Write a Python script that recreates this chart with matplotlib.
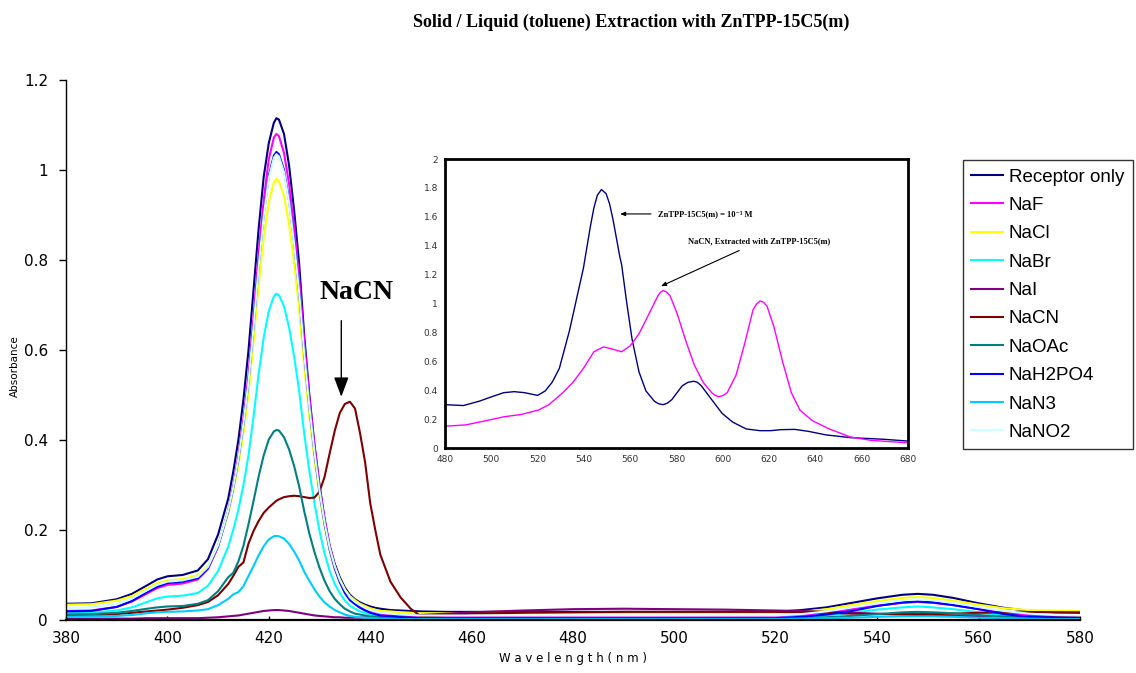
import matplotlib
matplotlib.use("Agg")
import matplotlib.pyplot as plt

# ---- main spectra: absorbance vs wavelength (nm) ----
wl = [380, 385, 390, 393, 396, 398, 400, 403, 406, 408, 410, 412, 413, 414, 415, 416, 417, 418,
      419, 420, 421, 421.5, 422, 423, 424, 425, 426, 427, 428, 429, 430, 431, 432,
      433, 434, 435, 436, 437, 438, 439, 440, 441, 442, 444, 446, 448, 450, 455,
      460, 470, 480, 490, 500, 510, 520, 525, 530, 535, 540, 545, 548, 551, 555,
      560, 565, 570, 575, 580]

receptor = [0.036, 0.037, 0.046, 0.058, 0.077, 0.090, 0.097, 0.100, 0.110, 0.135, 0.19, 0.27, 0.33, 0.40, 0.49, 0.60, 0.735, 0.87,
            0.985, 1.06, 1.105, 1.115, 1.112, 1.08, 1.01, 0.91, 0.79, 0.63, 0.50, 0.39, 0.30, 0.225, 0.165,
            0.125, 0.095, 0.072, 0.056, 0.046, 0.039, 0.034, 0.030, 0.027, 0.025, 0.022, 0.021, 0.020, 0.019, 0.018,
            0.018, 0.018, 0.018, 0.018, 0.018, 0.018, 0.018, 0.022, 0.028, 0.038, 0.048, 0.056, 0.058, 0.056, 0.049,
            0.037, 0.027, 0.020, 0.017, 0.016]

naf = [0.020, 0.021, 0.029, 0.041, 0.059, 0.071, 0.078, 0.081, 0.090, 0.113, 0.163, 0.244, 0.299, 0.365, 0.447, 0.545, 0.675, 0.816,
       0.934, 1.024, 1.072, 1.080, 1.075, 1.038, 0.969, 0.872, 0.757, 0.615, 0.494, 0.388, 0.297, 0.223, 0.164,
       0.121, 0.090, 0.066, 0.050, 0.040, 0.031, 0.025, 0.020, 0.018, 0.014, 0.012, 0.010, 0.009, 0.008, 0.008,
       0.008, 0.008, 0.008, 0.008, 0.008, 0.008, 0.008, 0.011, 0.016, 0.024, 0.032, 0.038, 0.040, 0.038, 0.033,
       0.024, 0.016, 0.011, 0.009, 0.008]

nacl = [0.034, 0.035, 0.043, 0.053, 0.071, 0.082, 0.088, 0.091, 0.099, 0.120, 0.165, 0.236, 0.286, 0.344, 0.417, 0.505, 0.620, 0.745,
        0.851, 0.930, 0.972, 0.980, 0.975, 0.942, 0.879, 0.793, 0.689, 0.561, 0.453, 0.357, 0.275, 0.208, 0.156,
        0.118, 0.090, 0.068, 0.053, 0.044, 0.036, 0.031, 0.026, 0.023, 0.020, 0.019, 0.017, 0.016, 0.015, 0.015,
        0.015, 0.015, 0.015, 0.015, 0.015, 0.015, 0.015, 0.018, 0.024, 0.033, 0.042, 0.049, 0.051, 0.049, 0.043,
        0.034, 0.026, 0.022, 0.021, 0.020]

nabr = [0.015, 0.016, 0.021, 0.028, 0.040, 0.048, 0.052, 0.054, 0.060, 0.076, 0.109, 0.163, 0.201, 0.245, 0.300, 0.366, 0.453, 0.547,
        0.628, 0.687, 0.719, 0.725, 0.722, 0.697, 0.650, 0.585, 0.508, 0.413, 0.331, 0.260, 0.198, 0.148, 0.109,
        0.080, 0.060, 0.043, 0.032, 0.025, 0.019, 0.016, 0.012, 0.010, 0.008, 0.006, 0.005, 0.004, 0.004, 0.004,
        0.004, 0.004, 0.004, 0.004, 0.004, 0.004, 0.004, 0.006, 0.010, 0.016, 0.023, 0.028, 0.030, 0.028, 0.024,
        0.017, 0.010, 0.006, 0.005, 0.004]

nai = [0.003, 0.003, 0.003, 0.003, 0.004, 0.004, 0.004, 0.004, 0.004, 0.005, 0.006, 0.008, 0.009, 0.010, 0.012, 0.014, 0.016, 0.018,
       0.020, 0.021, 0.022, 0.022, 0.022, 0.021, 0.020, 0.018, 0.016, 0.014, 0.012, 0.010, 0.009, 0.008, 0.007,
       0.006, 0.006, 0.005, 0.005, 0.005, 0.005, 0.006, 0.006, 0.007, 0.007, 0.008, 0.009, 0.010, 0.011, 0.014,
       0.017, 0.021, 0.024, 0.025, 0.024, 0.023, 0.021, 0.020, 0.018, 0.016, 0.014, 0.012, 0.011, 0.010, 0.009,
       0.008, 0.007, 0.007, 0.007, 0.007]

nacn = [0.009, 0.010, 0.013, 0.016, 0.019, 0.021, 0.023, 0.027, 0.033, 0.040, 0.055, 0.080, 0.098, 0.118, 0.128, 0.170, 0.198, 0.220,
        0.238, 0.250, 0.260, 0.265, 0.268, 0.273, 0.275, 0.276, 0.275, 0.273, 0.271, 0.272, 0.285, 0.318, 0.370,
        0.420, 0.460, 0.480, 0.485, 0.470, 0.415, 0.350, 0.260, 0.200, 0.145, 0.085, 0.050, 0.025, 0.008, 0.011,
        0.014, 0.016, 0.017, 0.018, 0.018, 0.018, 0.018, 0.017, 0.016, 0.014, 0.013, 0.013, 0.013, 0.013, 0.014,
        0.016, 0.017, 0.017, 0.017, 0.017]

naoac = [0.012, 0.013, 0.016, 0.020, 0.025, 0.028, 0.030, 0.031, 0.036, 0.044, 0.064, 0.095, 0.105, 0.130, 0.165, 0.213, 0.265, 0.319,
         0.366, 0.401, 0.419, 0.422, 0.421, 0.406, 0.379, 0.342, 0.296, 0.241, 0.192, 0.151, 0.116, 0.087, 0.064,
         0.047, 0.035, 0.025, 0.019, 0.014, 0.012, 0.010, 0.008, 0.007, 0.006, 0.005, 0.004, 0.003, 0.003, 0.003,
         0.003, 0.003, 0.003, 0.003, 0.003, 0.003, 0.003, 0.004, 0.006, 0.009, 0.013, 0.017, 0.018, 0.017, 0.015,
         0.011, 0.007, 0.005, 0.004, 0.004]

nah2po4 = [0.019, 0.020, 0.029, 0.042, 0.062, 0.074, 0.082, 0.085, 0.093, 0.115, 0.164, 0.241, 0.294, 0.357, 0.436, 0.530, 0.654, 0.788,
           0.902, 0.987, 1.032, 1.040, 1.035, 1.000, 0.932, 0.839, 0.727, 0.590, 0.473, 0.371, 0.284, 0.213, 0.156,
           0.114, 0.084, 0.060, 0.044, 0.035, 0.027, 0.021, 0.016, 0.013, 0.010, 0.008, 0.006, 0.005, 0.004, 0.004,
           0.004, 0.004, 0.004, 0.004, 0.004, 0.004, 0.004, 0.007, 0.012, 0.020, 0.031, 0.039, 0.041, 0.039, 0.033,
           0.024, 0.013, 0.007, 0.005, 0.004]

nan3 = [0.007, 0.008, 0.009, 0.011, 0.015, 0.017, 0.018, 0.019, 0.021, 0.024, 0.033, 0.047, 0.057, 0.062, 0.075, 0.098, 0.120, 0.144,
        0.164, 0.179, 0.186, 0.187, 0.186, 0.181, 0.169, 0.152, 0.132, 0.107, 0.087, 0.068, 0.052, 0.039, 0.030,
        0.022, 0.017, 0.012, 0.009, 0.007, 0.006, 0.005, 0.004, 0.004, 0.003, 0.003, 0.002, 0.002, 0.002, 0.002,
        0.002, 0.002, 0.002, 0.002, 0.002, 0.002, 0.002, 0.003, 0.004, 0.005, 0.007, 0.008, 0.008, 0.008, 0.007,
        0.005, 0.004, 0.003, 0.002, 0.002]

nano2 = [0.027, 0.028, 0.036, 0.048, 0.066, 0.078, 0.085, 0.088, 0.096, 0.118, 0.166, 0.243, 0.295, 0.358, 0.436, 0.529, 0.652, 0.785,
         0.898, 0.982, 1.027, 1.035, 1.030, 0.995, 0.928, 0.836, 0.726, 0.590, 0.474, 0.373, 0.287, 0.216, 0.160,
         0.119, 0.089, 0.067, 0.050, 0.040, 0.033, 0.027, 0.022, 0.019, 0.016, 0.014, 0.012, 0.011, 0.010, 0.010,
         0.010, 0.010, 0.010, 0.010, 0.010, 0.010, 0.010, 0.013, 0.019, 0.028, 0.037, 0.044, 0.046, 0.044, 0.038,
         0.029, 0.020, 0.014, 0.011, 0.010]

labels = ["Receptor only", "NaF", "NaCl", "NaBr", "NaI", "NaCN",
          "NaOAc", "NaH2PO4", "NaN3", "NaNO2"]
series = [receptor, naf, nacl, nabr, nai, nacn, naoac, nah2po4, nan3, nano2]
colors = ["#000080", "#ff00ff", "#ffff00", "#00ffff", "#800080", "#800000",
          "#008080", "#0000ff", "#00ccff", "#ccffff"]

# ---- inset: visible region of receptor vs. NaCN extract ----
wl_receptor_in = [480, 488, 495, 500.2, 505.4, 509.9, 514.4, 520, 523.3, 526.3, 529.4, 533.8,
                  536.8, 539.8, 542.8, 544.3, 545.8, 547.6, 549.6, 551.1, 552.6, 555.6, 556.3,
                  558.5, 560.8, 563.8, 566.8, 570.5, 572.3, 574.2, 576, 578, 582.5, 585, 587.4,
                  589, 590.7, 595.2, 599.7, 604.2, 610.1, 616.1, 620.6, 625.1, 631.1, 637.1,
                  644.5, 655, 670, 680]
abs_receptor_in = [0.30, 0.294, 0.325, 0.355, 0.383, 0.39, 0.383, 0.364, 0.395, 0.455, 0.551, 0.814,
                   1.03, 1.245, 1.533, 1.66, 1.749, 1.789, 1.76, 1.69, 1.58, 1.317, 1.27,
                   1.006, 0.754, 0.527, 0.395, 0.323, 0.306, 0.30, 0.31, 0.335, 0.431, 0.455, 0.462,
                   0.455, 0.431, 0.335, 0.24, 0.18, 0.132, 0.12, 0.12, 0.127, 0.129, 0.115,
                   0.091, 0.072, 0.06, 0.048]

wl_nacn_in = [480, 489, 498, 505.4, 512.9, 520.4, 524.9, 530.9, 535.3, 539.8, 544.3, 548.5,
              551.8, 556.3, 560, 563.8, 568.3, 572, 573.1, 574.2, 575.7, 577.2, 580.2, 584,
              587.7, 591.5, 595.2, 596.7, 598.2, 599.9, 601.9, 605.7, 609.4, 613.1, 614.6,
              616.1, 617.6, 619.1, 622.1, 625.8, 629.6, 633.3, 638.6, 646, 655, 664, 680]
abs_nacn_in = [0.151, 0.16, 0.19, 0.216, 0.232, 0.263, 0.30, 0.383, 0.455, 0.551, 0.666, 0.70,
               0.687, 0.666, 0.707, 0.79, 0.934, 1.054, 1.078, 1.09, 1.08, 1.054, 0.934, 0.743,
               0.575, 0.455, 0.383, 0.365, 0.355, 0.362, 0.383, 0.503, 0.719, 0.958, 0.997,
               1.018, 1.008, 0.982, 0.838, 0.599, 0.383, 0.263, 0.19, 0.132, 0.077, 0.053, 0.036]

serif = ["Liberation Serif", "DejaVu Serif"]
sans = ["Liberation Sans", "DejaVu Sans"]

fig = plt.figure(figsize=(11.36, 6.73), dpi=100)
ax = fig.add_axes([0.0581, 0.0788, 0.8926, 0.8024])

handles = []
for vals, lab, col in zip(series, labels, colors):
    h, = ax.plot(wl, vals, color=col, lw=1.5, label=lab)
    handles.append(h)

ax.set_xlim(380, 580)
ax.set_ylim(0, 1.2)
ax.set_xticks(range(380, 581, 20))
ax.set_yticks([0, 0.2, 0.4, 0.6, 0.8, 1.0, 1.2])
ax.set_yticklabels(["0", "0.2", "0.4", "0.6", "0.8", "1", "1.2"])
for s in ("top", "right"):
    ax.spines[s].set_visible(False)
ax.spines["left"].set_linewidth(1.0)
ax.spines["bottom"].set_linewidth(1.6)
ax.tick_params(axis="y", direction="out", length=5, width=1, pad=8, labelsize=11)
ax.tick_params(axis="x", direction="in", length=3, width=1, pad=8, labelsize=11)

ax.set_xlabel("W a v e l e n g t h ( n m )", fontsize=8.5, labelpad=4)
ax.set_ylabel("Absorbance", fontsize=7.5)
ax.yaxis.set_label_coords(-0.045, 0.47)

fig.text(0.556, 0.967, "Solid / Liquid (toluene) Extraction with ZnTPP-15C5(m)",
         ha="center", va="center", family=serif, fontweight="bold", fontsize=13)

ax.text(437.2, 0.727, "NaCN", ha="center", va="center", family=serif,
        fontweight="bold", fontsize=20)
ax.annotate("", xy=(434.3, 0.496), xytext=(434.3, 0.665),
            arrowprops=dict(arrowstyle="-|>,head_length=1.2,head_width=0.45",
                            color="black", lw=1.0, shrinkA=0, shrinkB=0))

leg = fig.legend(handles=handles, loc="upper left",
                 bbox_to_anchor=(963 / 1136, 1 - 160 / 673), frameon=True,
                 fancybox=False, edgecolor="black", prop={"family": sans, "size": 13.5},
                 handlelength=1.7, handletextpad=0.3, labelspacing=0.6,
                 borderpad=0.45, borderaxespad=0)
leg.get_frame().set_linewidth(1.0)

# inset axes
ins = fig.add_axes([0.3917, 0.3343, 0.4076, 0.4294])
ins.plot(wl_receptor_in, abs_receptor_in, color="#000080", lw=1.0)
ins.plot(wl_nacn_in, abs_nacn_in, color="#ff00ff", lw=1.0)
ins.set_xlim(480, 680)
ins.set_ylim(0, 2)
ins.set_xticks(range(480, 681, 20))
ins.set_yticks([0, 0.2, 0.4, 0.6, 0.8, 1.0, 1.2, 1.4, 1.6, 1.8, 2.0])
ins.set_yticklabels(["0", "0.2", "0.4", "0.6", "0.8", "1", "1.2", "1.4", "1.6", "1.8", "2"])
for s in ins.spines.values():
    s.set_linewidth(2.0)
ins.tick_params(length=0, pad=5, labelsize=6.5, labelcolor="#333333")

ins.annotate("ZnTPP-15C5(m) = 10\u207b\u00b3 M", xy=(555.6, 1.62), xytext=(572, 1.62),
             ha="left", va="center", family=serif, fontweight="bold", fontsize=6,
             arrowprops=dict(arrowstyle="-|>,head_length=0.5,head_width=0.2",
                             color="black", lw=0.8, shrinkA=3, shrinkB=0))
ins.annotate("NaCN, Extracted with ZnTPP-15C5(m)", xy=(573.3, 1.12), xytext=(585, 1.43),
             ha="left", va="center", family=serif, fontweight="bold", fontsize=6,
             arrowprops=dict(arrowstyle="-|>,head_length=0.5,head_width=0.2",
                             color="black", lw=0.8, shrinkA=4, shrinkB=0))

fig.savefig("out.png", dpi=100)
